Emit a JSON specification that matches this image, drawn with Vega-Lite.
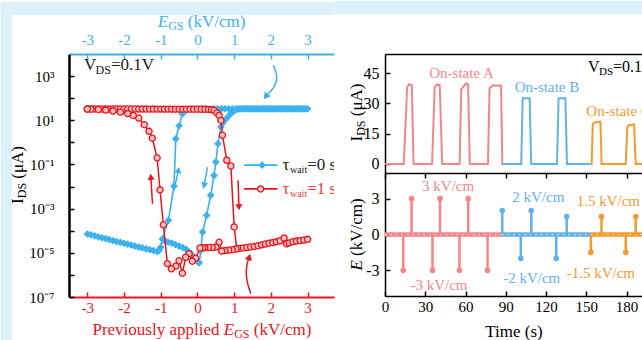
{
"$schema": "https://vega.github.io/schema/vega-lite/v6.json",
"background": "#ffffff",
"padding": {"left": 0, "top": 0, "right": 0, "bottom": 0},
"spacing": 0,
"config": {
  "font": "Liberation Serif",
  "view": {"stroke": null},
  "axis": {"grid": false, "labelFontSize": 15, "titleFontSize": 17, "titleFontWeight": "normal", "labelFlush": false, "labelOverlap": false, "tickSize": -5, "tickWidth": 1.5, "domainWidth": 1.5, "domainColor": "#000000", "tickColor": "#000000", "labelColor": "#000000", "titleColor": "#000000", "labelPadding": 10, "titlePadding": 3, "labelFont": "Liberation Serif", "titleFont": "Liberation Serif"},
  "title": {"font": "Liberation Serif"}
},
"datasets": {
  "bgL": [
    {"x": -5.36, "x2": -5.06, "v": 2.26e6, "v2": 9.18e-10},
    {"x": -5.36, "x2": 3.72, "v": 2.26e6, "v2": 5.83e5}
  ],
  "bgR": [
    {"t": -37.8, "t2": 191.5, "v": 80.78, "v2": 74.33}
  ],
  "ttl": [
    {"label":"E","x":-1.082,"v":1.667e5,"g":"bi"},
    {"label":"GS","x":-0.798,"v":1.667e5,"g":"bs"},
    {"label":"(kV/cm)","x":-0.264,"v":1.667e5,"g":"bm"},
    {"label":"Previously applied","x":-2.861,"v":1.81e-9,"g":"rm"},
    {"label":"E","x":0.717,"v":1.81e-9,"g":"ri"},
    {"label":"GS","x":1.0,"v":1.81e-9,"g":"rs"},
    {"label":"(kV/cm)","x":1.534,"v":1.81e-9,"g":"rm"},
    {"label":"I","x":-4.744,"v":1.62e-3,"g":"ym"},
    {"label":"DS","x":-4.744,"v":2.94e-3,"g":"ys"},
    {"label":"(μA)","x":-4.744,"v":0.02254,"g":"ym"}
  ],
  "ttlR1": [
    {"label":"I","t":-17.14,"v":11.12,"g":"ym"},
    {"label":"DS","t":-17.14,"v":13.94,"g":"ys"},
    {"label":"(μA)","t":-17.14,"v":23.64,"g":"ym"}
  ],
  "ttlR2": [
    {"label":"E","t":-17.14,"v":-3.02,"g":"yi"},
    {"label":"(kV/cm)","t":-17.14,"v":-1.80,"g":"ym"}
  ],
  "bl": [
    {"x":-3.0,"v":7.1e-5,"i":0},{"x":-2.9,"v":6.5e-5,"i":1},{"x":-2.8,"v":5.9e-5,"i":2},{"x":-2.7,"v":5.2e-5,"i":3},{"x":-2.6,"v":4.8e-5,"i":4},{"x":-2.5,"v":4.4e-5,"i":5},{"x":-2.4,"v":4.0e-5,"i":6},{"x":-2.3,"v":3.6e-5,"i":7},{"x":-2.2,"v":3.2e-5,"i":8},{"x":-2.1,"v":2.95e-5,"i":9},{"x":-2.0,"v":2.7e-5,"i":10},{"x":-1.9,"v":2.45e-5,"i":11},{"x":-1.8,"v":2.24e-5,"i":12},{"x":-1.7,"v":2.0e-5,"i":13},{"x":-1.6,"v":1.82e-5,"i":14},{"x":-1.5,"v":1.66e-5,"i":15},{"x":-1.4,"v":1.51e-5,"i":16},{"x":-1.3,"v":1.38e-5,"i":17},{"x":-1.2,"v":1.26e-5,"i":18},{"x":-1.1,"v":1.12e-5,"i":19},{"x":-1.0,"v":1.78e-5,"i":20},{"x":-0.95,"v":4.2e-5,"i":21},{"x":-0.9,"v":3.55e-5,"i":22},{"x":-0.8,"v":3.0e-5,"i":23},{"x":-0.7,"v":2.75e-5,"i":24},{"x":-0.6,"v":2.35e-5,"i":25},{"x":-0.5,"v":2.0e-5,"i":26},{"x":-0.4,"v":1.74e-5,"i":27},{"x":-0.3,"v":1.41e-5,"i":28},{"x":-0.2,"v":1.0e-5,"i":29},{"x":-0.1,"v":6.6e-6,"i":30},{"x":0.0,"v":4.0e-6,"i":31},{"x":0.05,"v":3.55e-6,"i":32},{"x":0.09,"v":1.26e-5,"i":33},{"x":0.14,"v":8.7e-5,"i":34},{"x":0.25,"v":5.0e-4,"i":35},{"x":0.36,"v":4.0e-3,"i":36},{"x":0.45,"v":0.0316,"i":37},{"x":0.5,"v":0.129,"i":38},{"x":0.56,"v":0.87,"i":39},{"x":0.64,"v":5.0,"i":40},{"x":0.7,"v":7.9,"i":41},{"x":0.8,"v":12.6,"i":42},{"x":0.9,"v":19.1,"i":43},{"x":1.0,"v":26.3,"i":44},{"x":1.1,"v":31.6,"i":45},{"x":1.2,"v":33.1,"i":46},{"x":1.3,"v":33.5,"i":47},{"x":1.4,"v":32.8,"i":48},{"x":1.5,"v":33.3,"i":49},{"x":1.6,"v":33.1,"i":50},{"x":1.7,"v":32.9,"i":51},{"x":1.8,"v":33.4,"i":52},{"x":1.9,"v":33.0,"i":53},{"x":2.0,"v":33.2,"i":54},{"x":2.1,"v":32.8,"i":55},{"x":2.2,"v":33.3,"i":56},{"x":2.3,"v":33.1,"i":57},{"x":2.4,"v":32.9,"i":58},{"x":2.5,"v":33.3,"i":59},{"x":2.6,"v":33.0,"i":60},{"x":2.7,"v":33.2,"i":61},{"x":2.8,"v":32.9,"i":62},{"x":2.9,"v":33.2,"i":63},{"x":3.0,"v":33.1,"i":64},
    {"x":2.95,"v":33.4,"i":65},{"x":2.85,"v":32.9,"i":66},{"x":2.75,"v":33.3,"i":67},{"x":2.65,"v":33.0,"i":68},{"x":2.55,"v":33.2,"i":69},{"x":2.45,"v":32.8,"i":70},{"x":2.35,"v":33.3,"i":71},{"x":2.25,"v":33.0,"i":72},{"x":2.15,"v":33.2,"i":73},{"x":2.05,"v":32.9,"i":74},{"x":1.95,"v":33.3,"i":75},{"x":1.85,"v":33.0,"i":76},{"x":1.75,"v":33.2,"i":77},{"x":1.65,"v":32.9,"i":78},{"x":1.55,"v":33.2,"i":79},{"x":1.45,"v":33.0,"i":80},{"x":1.35,"v":33.3,"i":81},{"x":1.25,"v":33.0,"i":82},{"x":1.15,"v":33.2,"i":83},{"x":1.05,"v":33.0,"i":84},{"x":0.95,"v":33.2,"i":85},{"x":0.85,"v":33.0,"i":86},{"x":0.75,"v":33.3,"i":87},{"x":0.65,"v":33.0,"i":88},{"x":0.55,"v":33.1,"i":89},{"x":0.45,"v":33.2,"i":90},{"x":0.35,"v":32.9,"i":91},{"x":0.25,"v":33.1,"i":92},{"x":0.15,"v":33.0,"i":93},{"x":0.05,"v":33.2,"i":94},{"x":-0.05,"v":32.9,"i":95},{"x":-0.15,"v":32.5,"i":96},{"x":-0.25,"v":31.6,"i":97},{"x":-0.32,"v":28.2,"i":98},{"x":-0.41,"v":19.5,"i":99},{"x":-0.5,"v":5.6,"i":100},{"x":-0.59,"v":1.45,"i":101},{"x":-0.64,"v":0.0105,"i":102},{"x":-0.79,"v":2.95e-4,"i":103},{"x":-0.95,"v":4.2e-5,"i":104},{"x":-1.05,"v":1.26e-5,"i":105}
  ],
  "rd": [
    {"x":-3.0,"v":32.4,"i":0},{"x":-2.9,"v":32.6,"i":1},{"x":-2.8,"v":32.4,"i":2},{"x":-2.7,"v":32.5,"i":3},{"x":-2.6,"v":32.4,"i":4},{"x":-2.5,"v":32.3,"i":5},{"x":-2.4,"v":32.4,"i":6},{"x":-2.3,"v":32.3,"i":7},{"x":-2.2,"v":32.4,"i":8},{"x":-2.1,"v":32.3,"i":9},{"x":-2.0,"v":32.2,"i":10},{"x":-1.9,"v":32.3,"i":11},{"x":-1.8,"v":32.2,"i":12},{"x":-1.7,"v":32.2,"i":13},{"x":-1.6,"v":32.1,"i":14},{"x":-1.5,"v":32.2,"i":15},{"x":-1.4,"v":32.1,"i":16},{"x":-1.3,"v":32.0,"i":17},{"x":-1.2,"v":32.1,"i":18},{"x":-1.1,"v":32.0,"i":19},{"x":-1.0,"v":32.0,"i":20},{"x":-0.9,"v":31.9,"i":21},{"x":-0.8,"v":32.0,"i":22},{"x":-0.7,"v":31.9,"i":23},{"x":-0.6,"v":31.8,"i":24},{"x":-0.5,"v":31.9,"i":25},{"x":-0.4,"v":31.8,"i":26},{"x":-0.3,"v":31.7,"i":27},{"x":-0.2,"v":31.8,"i":28},{"x":-0.1,"v":31.6,"i":29},{"x":0.0,"v":31.6,"i":30},{"x":0.1,"v":31.4,"i":31},{"x":0.2,"v":31.3,"i":32},{"x":0.3,"v":30.8,"i":33},{"x":0.38,"v":30.0,"i":34},{"x":0.45,"v":28.2,"i":35},{"x":0.53,"v":21.4,"i":36},{"x":0.59,"v":16.6,"i":37},{"x":0.64,"v":9.8,"i":38},{"x":0.68,"v":2.09,"i":39},{"x":0.8,"v":0.155,"i":40},{"x":0.91,"v":0.085,"i":41},{"x":1.0,"v":1.48e-4,"i":42},{"x":1.07,"v":1.55e-5,"i":43},{"x":1.15,"v":1.58e-5,"i":44},{"x":1.25,"v":1.66e-5,"i":45},{"x":1.35,"v":1.74e-5,"i":46},{"x":1.45,"v":1.84e-5,"i":47},{"x":1.55,"v":1.95e-5,"i":48},{"x":1.65,"v":2.1e-5,"i":49},{"x":1.75,"v":2.29e-5,"i":50},{"x":1.85,"v":2.5e-5,"i":51},{"x":1.95,"v":2.72e-5,"i":52},{"x":2.05,"v":2.9e-5,"i":53},{"x":2.15,"v":3.15e-5,"i":54},{"x":2.25,"v":3.5e-5,"i":55},{"x":2.36,"v":4.68e-5,"i":56},{"x":2.43,"v":2.57e-5,"i":57},{"x":2.5,"v":2.82e-5,"i":58},{"x":2.6,"v":3.16e-5,"i":59},{"x":2.7,"v":3.39e-5,"i":60},{"x":2.8,"v":3.55e-5,"i":61},{"x":2.9,"v":3.8e-5,"i":62},{"x":3.0,"v":4.07e-5,"i":63},
    {"x":1.05,"v":1.48e-5,"i":64},{"x":0.95,"v":1.38e-5,"i":65},{"x":0.85,"v":1.32e-5,"i":66},{"x":0.75,"v":1.26e-5,"i":67},{"x":0.66,"v":1.2e-5,"i":68},{"x":0.59,"v":3.0e-5,"i":69},{"x":0.5,"v":1.82e-5,"i":70},{"x":0.4,"v":1.74e-5,"i":71},{"x":0.3,"v":1.74e-5,"i":72},{"x":0.2,"v":1.7e-5,"i":73},{"x":0.15,"v":1.7e-5,"i":74},{"x":0.07,"v":1.66e-5,"i":75},{"x":-0.05,"v":5.75e-6,"i":76},{"x":-0.14,"v":4.17e-6,"i":77},{"x":-0.23,"v":9.1e-6,"i":78},{"x":-0.32,"v":6.3e-6,"i":79},{"x":-0.41,"v":1.2e-6,"i":80},{"x":-0.5,"v":4.37e-6,"i":81},{"x":-0.59,"v":2.5e-6,"i":82},{"x":-0.71,"v":1.9e-6,"i":83},{"x":-0.82,"v":3.24e-6,"i":84},{"x":-0.93,"v":1.86e-4,"i":85},{"x":-1.02,"v":7.1e-3,"i":86},{"x":-1.1,"v":0.2,"i":87},{"x":-1.23,"v":1.55,"i":88},{"x":-1.32,"v":3.16,"i":89},{"x":-1.45,"v":6.3,"i":90},{"x":-1.6,"v":12.6,"i":91},{"x":-1.75,"v":16.6,"i":92},{"x":-1.9,"v":20,"i":93},{"x":-2.1,"v":23.4,"i":94},{"x":-2.3,"v":26.3,"i":95},{"x":-2.5,"v":28.8,"i":96},{"x":-2.7,"v":30.9,"i":97},{"x":-2.9,"v":31.6,"i":98},{"x":-3.0,"v":32.4,"i":99}
  ],
  "arr": [
    {"a":"a1","c":"r","x":-1.226,"v":1.66e-3,"i":0},{"a":"a1","c":"r","x":-1.27,"v":0.0275,"i":1},
    {"a":"a2","c":"b","x":-0.638,"v":6.8e-3,"i":0},{"a":"a2","c":"b","x":-0.518,"v":0.056,"i":1},
    {"a":"a3","c":"b","x":0.272,"v":0.076,"i":0},{"a":"a3","c":"b","x":0.18,"v":0.011,"i":1},
    {"a":"a4","c":"r","x":1.106,"v":0.019,"i":0},{"a":"a4","c":"r","x":1.13,"v":1.15e-3,"i":1},
    {"a":"a5","c":"b","x":2.07,"v":3050,"i":0},{"a":"a5","c":"b","x":2.196,"v":902,"i":1},{"a":"a5","c":"b","x":2.106,"v":318,"i":2},{"a":"a5","c":"b","x":1.943,"v":170,"i":3},{"a":"a5","c":"b","x":1.861,"v":118,"i":4},
    {"a":"a6","c":"r","x":1.453,"v":1.41e-7,"i":0},{"a":"a6","c":"r","x":1.343,"v":4.8e-7,"i":1},{"a":"a6","c":"r","x":1.316,"v":1.66e-6,"i":2},{"a":"a6","c":"r","x":1.37,"v":4.27e-6,"i":3},{"a":"a6","c":"r","x":1.411,"v":6.5e-6,"i":4}
  ],
  "hd": [
    {"a":"a1","c":"r","x":-1.27,"v":0.0275},
    {"a":"a2","c":"b","x":-0.518,"v":0.056},
    {"a":"a3","c":"b","x":0.18,"v":0.011},
    {"a":"a4","c":"r","x":1.13,"v":1.15e-3},
    {"a":"a5","c":"b","x":1.861,"v":118},
    {"a":"a6","c":"r","x":1.411,"v":6.5e-6}
  ],
  "lg": [
    {"c":"b","x":1.27,"v":0.093},{"c":"b","x":2.18,"v":0.093},
    {"c":"r","x":1.27,"v":0.0078},{"c":"r","x":2.18,"v":0.0078}
  ],
  "lgm": [
    {"c":"b","x":1.76,"v":0.093},{"c":"r","x":1.72,"v":0.0078}
  ],
  "lt": [
    {"label":"V","x":-3.09,"v":3236,"g":"k"},{"label":"DS","x":-2.777,"v":3236,"g":"ks"},{"label":"=0.1V","x":-2.355,"v":3236,"g":"k"},
    {"label":"τ","x":2.316,"v":0.093,"g":"k"},{"label":"wait","x":2.52,"v":0.093,"g":"kw"},{"label":"=0 s","x":2.99,"v":0.093,"g":"k"},
    {"label":"τ","x":2.316,"v":0.0078,"g":"r"},{"label":"wait","x":2.52,"v":0.0078,"g":"rw"},{"label":"=1 s","x":2.99,"v":0.0078,"g":"r"}
  ],
  "ids": [
    {"t":0,"v":0,"c":"A","i":0},{"t":14.0,"v":0,"c":"A","i":1},{"t":16.5,"v":38,"c":"A","i":2},{"t":18.0,"v":39.5,"c":"A","i":3},{"t":20.0,"v":39,"c":"A","i":4},{"t":21.3,"v":0,"c":"A","i":5},{"t":35.1,"v":0,"c":"A","i":6},{"t":37.0,"v":38,"c":"A","i":7},{"t":38.8,"v":39.5,"c":"A","i":8},{"t":40.8,"v":39,"c":"A","i":9},{"t":42.6,"v":0,"c":"A","i":10},{"t":55.6,"v":0,"c":"A","i":11},{"t":56.8,"v":37,"c":"A","i":12},{"t":60.5,"v":40,"c":"A","i":13},{"t":61.9,"v":39.5,"c":"A","i":14},{"t":63.2,"v":0,"c":"A","i":15},{"t":76.7,"v":0,"c":"A","i":16},{"t":77.9,"v":37.5,"c":"A","i":17},{"t":80.4,"v":39,"c":"A","i":18},{"t":86.5,"v":38.8,"c":"A","i":19},{"t":87.4,"v":0,"c":"A","i":20},{"t":87.9,"v":0,"c":"A","i":21},
    {"t":87.9,"v":0,"c":"B","i":0},{"t":101.5,"v":0,"c":"B","i":1},{"t":102.6,"v":32.6,"c":"B","i":2},{"t":107.8,"v":32.6,"c":"B","i":3},{"t":108.9,"v":0,"c":"B","i":4},{"t":128.2,"v":0,"c":"B","i":5},{"t":129.3,"v":32.6,"c":"B","i":6},{"t":134.4,"v":32.6,"c":"B","i":7},{"t":135.6,"v":0,"c":"B","i":8},{"t":153.4,"v":0,"c":"B","i":9},
    {"t":153.4,"v":0,"c":"C","i":0},{"t":154.0,"v":0,"c":"C","i":1},{"t":154.8,"v":19.5,"c":"C","i":2},{"t":155.8,"v":20.5,"c":"C","i":3},{"t":160.5,"v":21,"c":"C","i":4},{"t":161.4,"v":0,"c":"C","i":5},{"t":179.4,"v":0,"c":"C","i":6},{"t":180.6,"v":18.5,"c":"C","i":7},{"t":181.6,"v":19.2,"c":"C","i":8},{"t":185.6,"v":19.6,"c":"C","i":9},{"t":186.8,"v":0,"c":"C","i":10},{"t":195,"v":0,"c":"C","i":11}
  ],
  "idst": [
    {"label":"On-state A","t":57,"v":45.3,"c":"A"},
    {"label":"On-state B","t":120.7,"v":37.9,"c":"B"},
    {"label":"On-state C","t":174.1,"v":26.4,"c":"C"}
  ],
  "vr": [
    {"label":"V","t":151.3,"v":48.3,"g":"k"},{"label":"DS","t":159.5,"v":48.3,"g":"ks"},{"label":"=0.1V","t":169.9,"v":48.3,"g":"k"}
  ],
  "eb": [
    {"t":0,"v":0,"c":"A"},{"t":87.4,"v":0,"c":"A"},
    {"t":87.4,"v":0,"c":"B"},{"t":153.4,"v":0,"c":"B"},
    {"t":153.4,"v":0,"c":"C"},{"t":195,"v":0,"c":"C"}
  ],
  "sp": [
    {"t":13.6,"v":-3,"c":"A"},{"t":19.8,"v":3,"c":"A"},{"t":35.4,"v":-3,"c":"A"},{"t":41.0,"v":3,"c":"A"},{"t":55.5,"v":-3,"c":"A"},{"t":62.0,"v":3,"c":"A"},{"t":76.4,"v":-3,"c":"A"},
    {"t":87.4,"v":2,"c":"B"},{"t":101.2,"v":-2,"c":"B"},{"t":109.0,"v":2,"c":"B"},{"t":127.6,"v":-2,"c":"B"},{"t":135.4,"v":1.5,"c":"B"},
    {"t":153.4,"v":-1.5,"c":"C"},{"t":161.3,"v":1.5,"c":"C"},{"t":179.4,"v":-1.5,"c":"C"},{"t":186.8,"v":1.5,"c":"C"}
  ],
  "et": [
    {"label":"3 kV/cm","t":47,"v":4.05,"c":"A"},
    {"label":"-3 kV/cm","t":40.2,"v":-4.19,"c":"A"},
    {"label":"2 kV/cm","t":114.2,"v":3.13,"c":"B"},
    {"label":"-2 kV/cm","t":109.3,"v":-3.64,"c":"B"},
    {"label":"1.5 kV/cm","t":166.4,"v":2.79,"c":"C"},
    {"label":"-1.5 kV/cm","t":160.8,"v":-3.22,"c":"C"}
  ]
},
"hconcat": [
  {
    "width": 265, "height": 243,
    "resolve": {"axis": {"x": "independent", "y": "independent"}},
    "encoding": {
      "x": {"field": "x", "type": "quantitative", "scale": {"domain": [-3.5, 3.72], "nice": false, "zero": false}, "axis": null},
      "y": {"field": "v", "type": "quantitative", "scale": {"type": "log", "domain": [1e-7, 1e4], "nice": false}, "axis": null}
    },
    "layer": [
      {"data": {"name": "bgL"}, "mark": {"type": "rect", "color": "#dcf1fa", "clip": false},
       "encoding": {"x2": {"field": "x2"}, "y2": {"field": "v2"}}},
      {"data": {"name": "bl"}, "mark": {"type": "line", "color": "#3db1ee", "strokeWidth": 1.6, "clip": true},
       "encoding": {
         "x": {"field": "x", "type": "quantitative", "scale": {"domain": [-3.5, 3.72], "nice": false, "zero": false},
               "axis": {"orient": "bottom", "values": [-3,-2,-1,0,1,2,3], "labelExpr": "''+datum.value", "title": null, "labelFont": "Liberation Serif", "domainColor": "#e8161c", "tickColor": "#e8161c", "labelColor": "#e8161c", "domainWidth": 2, "labelPadding": 8}},
         "y": {"field": "v", "type": "quantitative", "scale": {"type": "log", "domain": [1e-7, 1e4], "nice": false},
               "axis": {"orient": "left", "values": [1e-7,1e-6,1e-5,1e-4,0.001,0.01,0.1,1,10,100,1000], "labelExpr": "(round(log(datum.value)/LN10)==3)?'10³':(round(log(datum.value)/LN10)==1)?'10¹':(round(log(datum.value)/LN10)==-1)?'10⁻¹':(round(log(datum.value)/LN10)==-3)?'10⁻³':(round(log(datum.value)/LN10)==-5)?'10⁻⁵':(round(log(datum.value)/LN10)==-7)?'10⁻⁷':''", "title": null, "labelFont": "Liberation Serif", "domainWidth": 2.5, "labelPadding": 20}},
         "order": {"field": "i", "type": "quantitative"}
       }},
      {"data": {"name": "bl"}, "mark": {"type": "point", "shape": "diamond", "filled": true, "color": "#3db1ee", "size": 60, "opacity": 1, "clip": true},
       "encoding": {
         "x": {"field": "x", "type": "quantitative", "scale": {"domain": [-3.5, 3.72], "nice": false, "zero": false},
               "axis": {"orient": "top", "values": [-3,-2,-1,0,1,2,3], "labelExpr": "''+datum.value", "title": null, "labelFont": "Liberation Serif", "domainColor": "#3db1ee", "tickColor": "#3db1ee", "labelColor": "#3db1ee", "domainWidth": 2, "labelPadding": 12}}
       }},
      {"data": {"name": "rd"}, "mark": {"type": "line", "color": "#e8161c", "strokeWidth": 1.5, "clip": true},
       "encoding": {"order": {"field": "i", "type": "quantitative"}}},
      {"data": {"name": "rd"}, "mark": {"type": "point", "shape": "circle", "filled": true, "fill": "#ffc2c2", "stroke": "#e8161c", "strokeWidth": 1.3, "size": 38, "opacity": 1, "clip": true},
       "encoding": {}},
      {"data": {"name": "arr"}, "mark": {"type": "line", "interpolate": "basis", "strokeWidth": 1.5},
       "encoding": {"detail": {"field": "a"}, "order": {"field": "i", "type": "quantitative"},
         "color": {"field": "c", "type": "nominal", "scale": {"domain": ["b","r","A","B","C"], "range": ["#3db1ee","#e8161c","#f2878b","#62b2ea","#f39b2e"]}, "legend": null}}},
      {"data": {"name": "hd"}, "transform": [{"filter": "datum.a=='a1'"}], "mark": {"type": "point", "shape": "triangle-up", "angle": -6, "filled": true, "size": 50, "opacity": 1, "color": "#e8161c"}, "encoding": {}},
      {"data": {"name": "hd"}, "transform": [{"filter": "datum.a=='a2'"}], "mark": {"type": "point", "shape": "triangle-up", "angle": 12, "filled": true, "size": 50, "opacity": 1, "color": "#3db1ee"}, "encoding": {}},
      {"data": {"name": "hd"}, "transform": [{"filter": "datum.a=='a3'"}], "mark": {"type": "point", "shape": "triangle-down", "angle": 10, "filled": true, "size": 50, "opacity": 1, "color": "#3db1ee"}, "encoding": {}},
      {"data": {"name": "hd"}, "transform": [{"filter": "datum.a=='a4'"}], "mark": {"type": "point", "shape": "triangle-down", "angle": -2, "filled": true, "size": 50, "opacity": 1, "color": "#e8161c"}, "encoding": {}},
      {"data": {"name": "hd"}, "transform": [{"filter": "datum.a=='a5'"}], "mark": {"type": "point", "shape": "triangle-down", "angle": 37, "filled": true, "size": 60, "opacity": 1, "color": "#3db1ee"}, "encoding": {}},
      {"data": {"name": "hd"}, "transform": [{"filter": "datum.a=='a6'"}], "mark": {"type": "point", "shape": "triangle-up", "angle": 17, "filled": true, "size": 55, "opacity": 1, "color": "#e8161c"}, "encoding": {}},
      {"data": {"name": "lg"}, "mark": {"type": "line", "strokeWidth": 1.8},
       "encoding": {"detail": {"field": "c"},
         "color": {"field": "c", "type": "nominal", "scale": {"domain": ["b","r","A","B","C"], "range": ["#3db1ee","#e8161c","#f2878b","#62b2ea","#f39b2e"]}, "legend": null}}},
      {"data": {"name": "lgm"}, "transform": [{"filter": "datum.c=='b'"}], "mark": {"type": "point", "shape": "diamond", "filled": true, "color": "#3db1ee", "size": 60, "opacity": 1}, "encoding": {}},
      {"data": {"name": "lgm"}, "transform": [{"filter": "datum.c=='r'"}], "mark": {"type": "point", "shape": "circle", "filled": true, "fill": "#ffc2c2", "stroke": "#e8161c", "strokeWidth": 1.3, "size": 38, "opacity": 1}, "encoding": {}},
      {"data": {"name": "lt"}, "transform": [{"filter": "datum.g=='k'"}], "mark": {"type": "text", "align": "left", "baseline": "middle", "fontSize": 17, "color": "#1a1a1a", "clip": true}, "encoding": {"text": {"field": "label"}}},
      {"data": {"name": "lt"}, "transform": [{"filter": "datum.g=='ks'"}], "mark": {"type": "text", "align": "left", "baseline": "middle", "fontSize": 12, "dy": 5, "color": "#1a1a1a", "clip": true}, "encoding": {"text": {"field": "label"}}},
      {"data": {"name": "lt"}, "transform": [{"filter": "datum.g=='kw'"}], "mark": {"type": "text", "align": "left", "baseline": "middle", "fontSize": 10, "dy": 5, "color": "#1a1a1a", "clip": true}, "encoding": {"text": {"field": "label"}}},
      {"data": {"name": "lt"}, "transform": [{"filter": "datum.g=='r'"}], "mark": {"type": "text", "align": "left", "baseline": "middle", "fontSize": 17, "color": "#ee3a3a", "clip": true}, "encoding": {"text": {"field": "label"}}},
      {"data": {"name": "lt"}, "transform": [{"filter": "datum.g=='rw'"}], "mark": {"type": "text", "align": "left", "baseline": "middle", "fontSize": 10, "dy": 5, "color": "#ee3a3a", "clip": true}, "encoding": {"text": {"field": "label"}}},
      {"data": {"name": "ttl"}, "transform": [{"filter": "datum.g=='bi'"}], "mark": {"type": "text", "align": "left", "baseline": "alphabetic", "fontSize": 17, "fontStyle": "italic", "color": "#3db1ee", "clip": false}, "encoding": {"text": {"field": "label"}}},
      {"data": {"name": "ttl"}, "transform": [{"filter": "datum.g=='bs'"}], "mark": {"type": "text", "align": "left", "baseline": "alphabetic", "fontSize": 12, "dy": 3, "color": "#3db1ee", "clip": false}, "encoding": {"text": {"field": "label"}}},
      {"data": {"name": "ttl"}, "transform": [{"filter": "datum.g=='bm'"}], "mark": {"type": "text", "align": "left", "baseline": "alphabetic", "fontSize": 17, "color": "#3db1ee", "clip": false}, "encoding": {"text": {"field": "label"}}},
      {"data": {"name": "ttl"}, "transform": [{"filter": "datum.g=='ri'"}], "mark": {"type": "text", "align": "left", "baseline": "alphabetic", "fontSize": 17, "fontStyle": "italic", "color": "#e8161c", "clip": false}, "encoding": {"text": {"field": "label"}}},
      {"data": {"name": "ttl"}, "transform": [{"filter": "datum.g=='rs'"}], "mark": {"type": "text", "align": "left", "baseline": "alphabetic", "fontSize": 12, "dy": 3, "color": "#e8161c", "clip": false}, "encoding": {"text": {"field": "label"}}},
      {"data": {"name": "ttl"}, "transform": [{"filter": "datum.g=='rm'"}], "mark": {"type": "text", "align": "left", "baseline": "alphabetic", "fontSize": 17, "color": "#e8161c", "clip": false}, "encoding": {"text": {"field": "label"}}},
      {"data": {"name": "ttl"}, "transform": [{"filter": "datum.g=='ym'"}], "mark": {"type": "text", "align": "left", "baseline": "alphabetic", "fontSize": 17, "angle": -90, "color": "#000000", "clip": false}, "encoding": {"text": {"field": "label"}}},
      {"data": {"name": "ttl"}, "transform": [{"filter": "datum.g=='ys'"}], "mark": {"type": "text", "align": "left", "baseline": "alphabetic", "fontSize": 12, "dy": 3, "angle": -90, "color": "#000000", "clip": false}, "encoding": {"text": {"field": "label"}}}
    ]
  },
  {
    "vconcat": [
      {
        "width": 257, "height": 119,
        "resolve": {"axis": {"x": "independent", "y": "independent"}},
        "encoding": {
          "x": {"field": "t", "type": "quantitative", "scale": {"domain": [0, 191.5], "nice": false, "zero": false}, "axis": null},
          "y": {"field": "v", "type": "quantitative", "scale": {"domain": [-4.5, 54.5], "nice": false, "zero": false}, "axis": null}
        },
        "layer": [
          {"data": {"name": "bgR"}, "mark": {"type": "rect", "color": "#dcf1fa", "clip": false},
           "encoding": {"x2": {"field": "t2"}, "y2": {"field": "v2"}}},
          {"data": {"name": "ids"}, "mark": {"type": "line", "strokeWidth": 2, "clip": true},
           "encoding": {
             "x": {"field": "t", "type": "quantitative", "scale": {"domain": [0, 191.5], "nice": false, "zero": false}, "axis": {"orient": "top", "labels": false, "ticks": false, "title": null, "domainWidth": 1.5}},
             "y": {"field": "v", "type": "quantitative", "scale": {"domain": [-4.5, 54.5], "nice": false, "zero": false}, "axis": {"orient": "left", "values": [0,15,30,45], "title": null, "labelFont": "Liberation Serif", "labelFontSize": 16, "labelPadding": 11}},
             "color": {"field": "c", "type": "nominal", "scale": {"domain": ["b","r","A","B","C"], "range": ["#3db1ee","#e8161c","#f2878b","#62b2ea","#f39b2e"]}, "legend": null},
             "detail": {"field": "c"},
             "order": {"field": "i", "type": "quantitative"}
           }},
          {"data": {"name": "idst"}, "mark": {"type": "text", "fontSize": 15, "align": "center", "baseline": "middle", "clip": true},
           "encoding": {"text": {"field": "label"},
             "color": {"field": "c", "type": "nominal", "scale": {"domain": ["b","r","A","B","C"], "range": ["#3db1ee","#e8161c","#f2878b","#62b2ea","#f39b2e"]}, "legend": null}}},
          {"data": {"name": "vr"}, "transform": [{"filter": "datum.g=='k'"}], "mark": {"type": "text", "align": "left", "baseline": "middle", "fontSize": 16, "color": "#000000", "clip": true}, "encoding": {"text": {"field": "label"}}},
          {"data": {"name": "vr"}, "transform": [{"filter": "datum.g=='ks'"}], "mark": {"type": "text", "align": "left", "baseline": "middle", "fontSize": 11, "dy": 5, "color": "#000000", "clip": true}, "encoding": {"text": {"field": "label"}}},
          {"data": {"name": "ttlR1"}, "transform": [{"filter": "datum.g=='ym'"}], "mark": {"type": "text", "align": "left", "baseline": "alphabetic", "fontSize": 17, "angle": -90, "color": "#000000", "clip": false}, "encoding": {"text": {"field": "label"}}},
          {"data": {"name": "ttlR1"}, "transform": [{"filter": "datum.g=='ys'"}], "mark": {"type": "text", "align": "left", "baseline": "alphabetic", "fontSize": 12, "dy": 3, "angle": -90, "color": "#000000", "clip": false}, "encoding": {"text": {"field": "label"}}}
        ]
      },
      {
        "width": 257, "height": 123,
        "resolve": {"axis": {"x": "independent", "y": "independent"}},
        "encoding": {
          "x": {"field": "t", "type": "quantitative", "scale": {"domain": [0, 191.5], "nice": false, "zero": false}, "axis": null},
          "y": {"field": "v", "type": "quantitative", "scale": {"domain": [-5.15, 5.15], "nice": false, "zero": false}, "axis": null}
        },
        "layer": [
          {"data": {"name": "eb"}, "mark": {"type": "line", "strokeWidth": 4.5, "clip": true},
           "encoding": {
             "x": {"field": "t", "type": "quantitative", "scale": {"domain": [0, 191.5], "nice": false, "zero": false}, "axis": {"orient": "bottom", "values": [0,30,60,90,120,150,180], "title": "Time (s)", "titleFontWeight": "normal", "labelFont": "Liberation Serif", "labelPadding": 8, "titlePadding": 9}},
             "y": {"field": "v", "type": "quantitative", "scale": {"domain": [-5.15, 5.15], "nice": false, "zero": false}, "axis": {"orient": "left", "values": [-3,0,3], "labelExpr": "''+datum.value", "title": null, "labelFont": "Liberation Serif", "labelFontSize": 16, "labelPadding": 11}},
             "color": {"field": "c", "type": "nominal", "scale": {"domain": ["b","r","A","B","C"], "range": ["#3db1ee","#e8161c","#f2878b","#62b2ea","#f39b2e"]}, "legend": null},
             "detail": {"field": "c"}
           }},
          {"data": {"name": "eb"}, "mark": {"type": "line", "strokeWidth": 1.2, "color": "#ffffff", "strokeDash": [1.5, 4], "opacity": 0.85, "clip": true},
           "encoding": {
             "x": {"field": "t", "type": "quantitative", "scale": {"domain": [0, 191.5], "nice": false, "zero": false}, "axis": {"orient": "top", "values": [0,30,60,90,120,150,180], "labels": false, "title": null}},
             "detail": {"field": "c"}
           }},
          {"data": {"name": "sp"}, "mark": {"type": "rule", "strokeWidth": 2.5},
           "encoding": {"y2": {"datum": 0},
             "color": {"field": "c", "type": "nominal", "scale": {"domain": ["b","r","A","B","C"], "range": ["#3db1ee","#e8161c","#f2878b","#62b2ea","#f39b2e"]}, "legend": null}}},
          {"data": {"name": "sp"}, "mark": {"type": "point", "shape": "circle", "filled": true, "size": 32, "opacity": 1},
           "encoding": {
             "color": {"field": "c", "type": "nominal", "scale": {"domain": ["b","r","A","B","C"], "range": ["#3db1ee","#e8161c","#f2878b","#62b2ea","#f39b2e"]}, "legend": null}}},
          {"data": {"name": "et"}, "mark": {"type": "text", "fontSize": 15, "align": "center", "baseline": "middle", "clip": true},
           "encoding": {"text": {"field": "label"},
             "color": {"field": "c", "type": "nominal", "scale": {"domain": ["b","r","A","B","C"], "range": ["#3db1ee","#e8161c","#f2878b","#62b2ea","#f39b2e"]}, "legend": null}}},
          {"data": {"name": "ttlR2"}, "transform": [{"filter": "datum.g=='yi'"}], "mark": {"type": "text", "align": "left", "baseline": "alphabetic", "fontSize": 17, "fontStyle": "italic", "angle": -90, "color": "#000000", "clip": false}, "encoding": {"text": {"field": "label"}}},
          {"data": {"name": "ttlR2"}, "transform": [{"filter": "datum.g=='ym'"}], "mark": {"type": "text", "align": "left", "baseline": "alphabetic", "fontSize": 17, "angle": -90, "color": "#000000", "clip": false}, "encoding": {"text": {"field": "label"}}}
        ]
      }
    ],
    "spacing": 0,
    "bounds": "flush"
  }
]
}
